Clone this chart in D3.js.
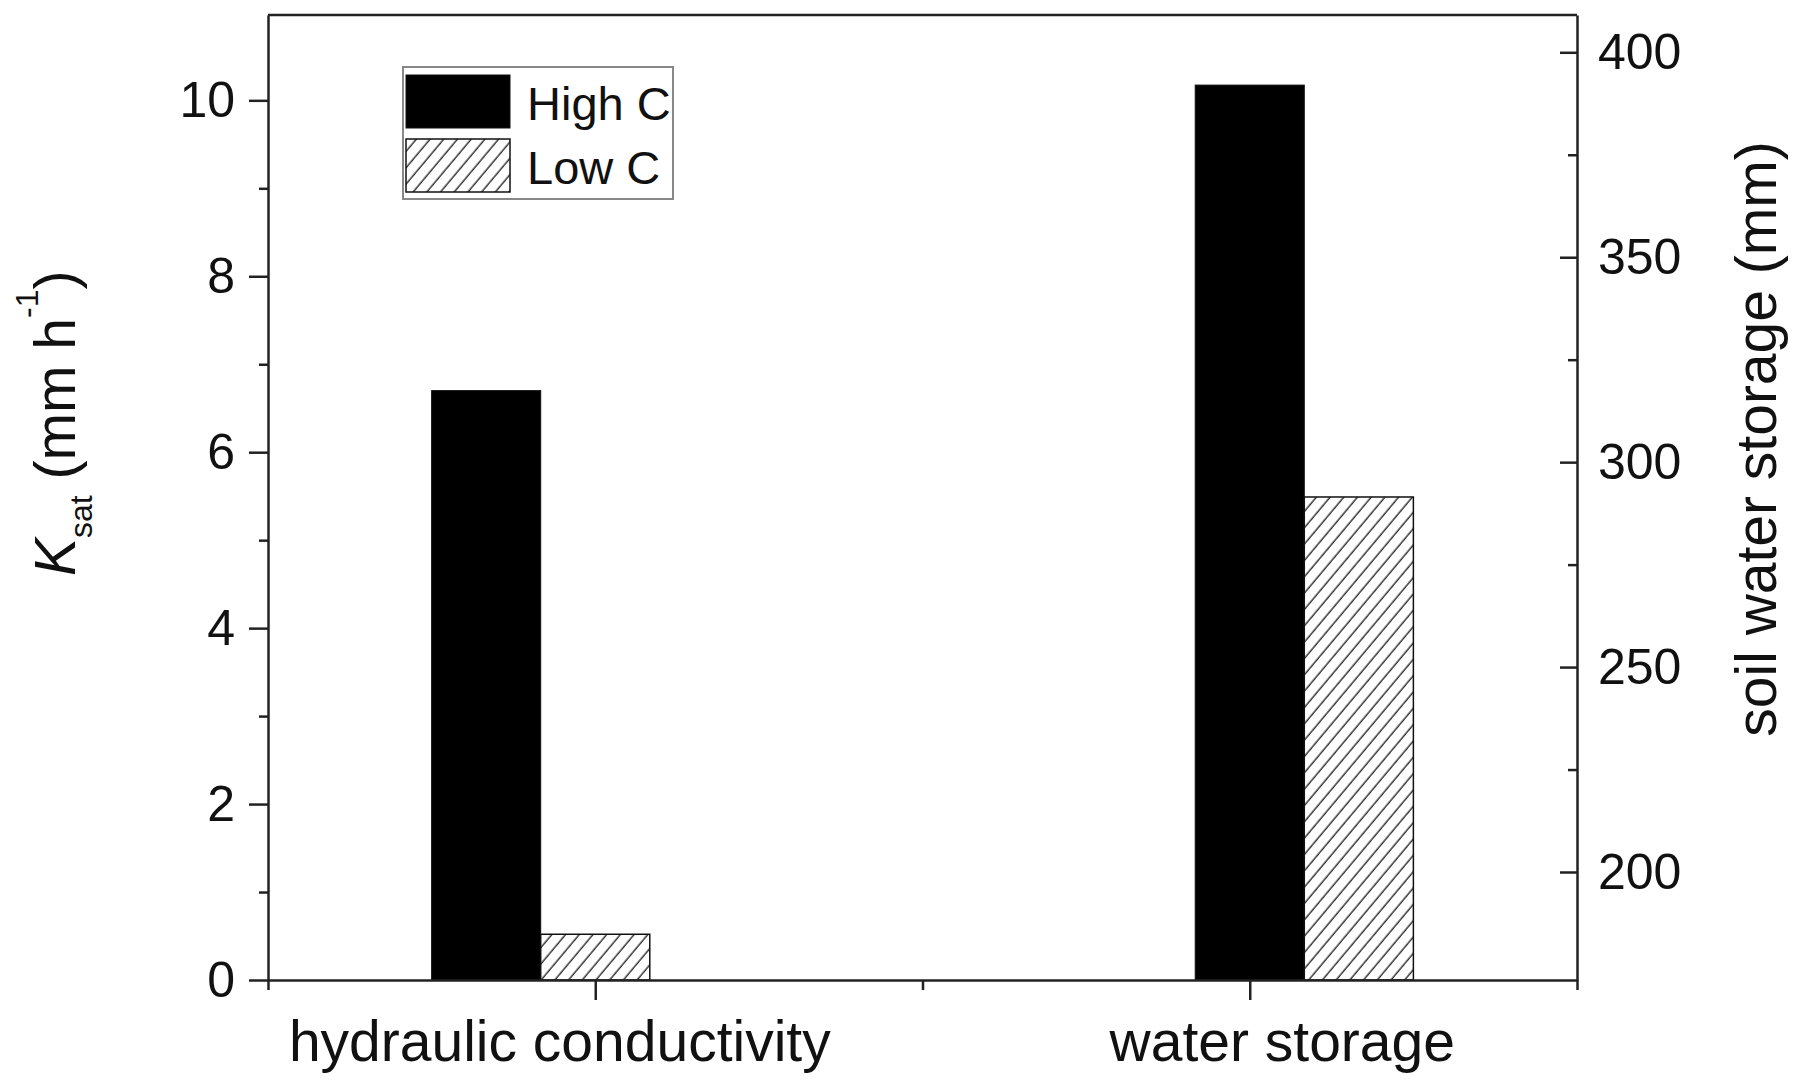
<!DOCTYPE html>
<html lang="en">
<head>
  <meta charset="UTF-8" />
  <title>Ksat and soil water storage</title>
  <style>
    body { margin: 0; background: #fff; }
    svg text { font-family: "Liberation Sans", Arial, sans-serif; fill: #111; }
    .axis path, .axis line { stroke: #222; stroke-width: 2.5px; }
    .axis text { font-size: 50px; }
    .xaxis text { font-size: 57px; }
    .frame-line { stroke: #222; stroke-width: 2.5px; }
    .bar-high { fill: #000; stroke: #111; stroke-width: 1px; }
    .bar-low { fill: url(#hatch); stroke: #111; stroke-width: 1.5px; }
    .legend-box { fill: #fff; stroke: #888; stroke-width: 2px; }
    .legend text { font-size: 47px; }
    .title { font-size: 57px; }
  </style>
</head>
<body>
  <script src="https://cdn.jsdelivr.net/npm/d3@7"></script>
  <script>
    // data
    var categories = ["hydraulic conductivity", "water storage"];
    var seriesNames = ["High C", "Low C"];
    var ksatValues = [6.7, 0.52];        // mm h-1, left axis
    var storageValues = [392, 291.5];    // mm, right axis
    var leftTicks = [0, 2, 4, 6, 8, 10];
    var leftMinor = [1, 3, 5, 7, 9];
    var rightTicks = [200, 250, 300, 350, 400];
    var rightMinor = [225, 275, 325, 375];
    var xTicks = [1, 2];
    var xMinor = [0.5, 1.5, 2.5];

    var w = 1799;
    var h = 1082;
    var margin = { top: 15, right: 222, bottom: 102, left: 268 };

    var svg = d3.select("body").append("svg")
      .attr("width", w)
      .attr("height", h);

    var defs = svg.append("defs");
    var pat = defs.append("pattern")
      .attr("id", "hatch")
      .attr("patternUnits", "userSpaceOnUse")
      .attr("width", 10.5)
      .attr("height", 10.5)
      .attr("patternTransform", "rotate(40)");
    pat.append("rect")
      .attr("width", 10.5)
      .attr("height", 10.5)
      .attr("fill", "#fff");
    pat.append("line")
      .attr("x1", 5).attr("y1", 0)
      .attr("x2", 5).attr("y2", 10.5)
      .attr("stroke", "#333")
      .attr("stroke-width", 1.5);

    var xScale = d3.scaleLinear()
      .domain([0.5, 2.5])
      .range([margin.left, w - margin.right]);

    var yLeft = d3.scaleLinear()
      .domain([0, 10.97])
      .range([h - margin.bottom, margin.top]);

    var yRight = d3.scaleLinear()
      .domain([173.65, 409.1])
      .range([h - margin.bottom, margin.top]);

    // bar layout: width 1/6 of a category; first group sits left of its tick
    var barW = 1 / 6;
    var groupStart = [-0.25, -1 / 12];
    var yScales = [yLeft, yRight];
    var values = [ksatValues, storageValues];

    categories.forEach(function(c, i) {
      var ys = yScales[i];
      svg.append("g")
        .selectAll("rect")
        .data(values[i])
        .enter()
        .append("rect")
        .attr("class", function(d, j) { return j == 0 ? "bar-high" : "bar-low"; })
        .attr("x", function(d, j) { return xScale(xTicks[i] + groupStart[i] + j * barW); })
        .attr("width", xScale(barW) - xScale(0))
        .attr("y", function(d) { return ys(d); })
        .attr("height", function(d) { return ys(ys.domain()[0]) - ys(d); });
    });

    // top frame
    svg.append("line")
      .attr("class", "frame-line")
      .attr("x1", xScale(0.5))
      .attr("x2", xScale(2.5))
      .attr("y1", margin.top)
      .attr("y2", margin.top);

    // left axis
    svg.append("g")
      .attr("class", "axis")
      .attr("transform", "translate(" + margin.left + ",0)")
      .call(d3.axisLeft(yLeft).tickValues(leftTicks).tickSize(19).tickSizeOuter(0).tickPadding(14));

    svg.append("g")
      .attr("class", "axis")
      .attr("transform", "translate(" + margin.left + ",0)")
      .call(d3.axisLeft(yLeft).tickValues(leftMinor).tickSize(9).tickFormat(""))
      .select(".domain").remove();

    // right axis, ticks point inward
    svg.append("g")
      .attr("class", "axis")
      .attr("transform", "translate(" + (w - margin.right) + ",0)")
      .call(d3.axisRight(yRight).tickValues(rightTicks).tickSizeInner(-17).tickSizeOuter(0).tickPadding(21));

    svg.append("g")
      .attr("class", "axis")
      .attr("transform", "translate(" + (w - margin.right) + ",0)")
      .call(d3.axisRight(yRight).tickValues(rightMinor).tickSizeInner(-9).tickFormat(""))
      .select(".domain").remove();

    // bottom axis
    var labelShift = [-36, 32];
    var xAxisG = svg.append("g")
      .attr("class", "axis xaxis")
      .attr("transform", "translate(0," + (h - margin.bottom) + ")")
      .call(d3.axisBottom(xScale).tickValues(xTicks).tickSize(20).tickSizeOuter(0)
        .tickFormat(function(d) { return categories[d - 1]; }));
    xAxisG.selectAll("text")
      .attr("y", 81)
      .attr("dy", 0)
      .attr("dx", function(d) { return labelShift[d - 1]; });

    svg.append("g")
      .attr("class", "axis")
      .attr("transform", "translate(0," + (h - margin.bottom) + ")")
      .call(d3.axisBottom(xScale).tickValues(xMinor).tickSize(10).tickFormat(""))
      .select(".domain").remove();

    // left title: K_sat (mm h^-1)
    var lt = svg.append("text")
      .attr("class", "title")
      .attr("transform", "translate(75,576) rotate(-90)");
    lt.append("tspan").attr("font-style", "italic").text("K");
    lt.append("tspan").attr("font-size", 32).attr("dy", 17).text("sat");
    lt.append("tspan").attr("dy", -17).text("\u00a0(mm h");
    lt.append("tspan").attr("font-size", 32).attr("dy", -37).text("-1");
    lt.append("tspan").attr("dy", 37).text(")");

    // right title
    svg.append("text")
      .attr("class", "title")
      .attr("transform", "translate(1776,439) rotate(-90)")
      .attr("text-anchor", "middle")
      .text("soil water storage (mm)");

    // legend
    var legend = svg.append("g")
      .attr("class", "legend")
      .attr("transform", "translate(403,67)");
    legend.append("rect")
      .attr("class", "legend-box")
      .attr("width", 270)
      .attr("height", 132);
    var rows = legend.selectAll(".row")
      .data(seriesNames)
      .enter()
      .append("g")
      .attr("class", "row")
      .attr("transform", function(d, i) { return "translate(0," + (i * 64) + ")"; });
    rows.append("rect")
      .attr("class", function(d, i) { return i == 0 ? "bar-high" : "bar-low"; })
      .attr("x", 3)
      .attr("y", 8)
      .attr("width", 104)
      .attr("height", 53);
    rows.append("text")
      .attr("x", 124)
      .attr("y", 53)
      .text(function(d) { return d; });
  </script>
</body>
</html>
